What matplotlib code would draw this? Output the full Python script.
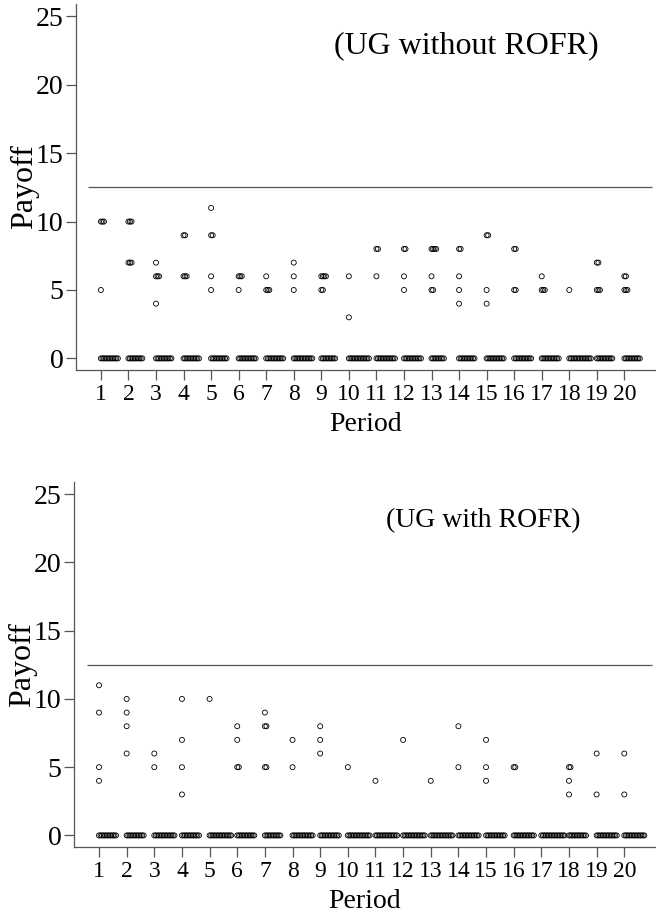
import numpy as np
import matplotlib.pyplot as plt

plt.rcParams['font.family'] = ['Liberation Serif', 'DejaVu Serif']

periods = list(range(1, 21))

# non-zero payoffs per period, zero payoffs counted separately
top_nonzero = [
    [10, 10, 10, 5], [10, 10, 10, 7, 7, 7], [7, 6, 6, 6, 4], [9, 9, 6, 6, 6],
    [11, 9, 9, 6, 5], [6, 6, 6, 5], [6, 5, 5, 5], [7, 6, 5],
    [6, 6, 6, 6, 5, 5], [6, 3], [8, 8, 6], [8, 8, 6, 5],
    [8, 8, 8, 8, 6, 5, 5], [8, 8, 6, 5, 4], [9, 9, 5, 4], [8, 8, 5, 5],
    [6, 5, 5, 5], [5], [7, 7, 5, 5, 5], [6, 6, 5, 5, 5],
]
top_zeros = [12, 10, 11, 11, 11, 12, 12, 13, 10, 14, 13, 12, 9, 11, 12, 12, 12, 15, 11, 11]

bot_nonzero = [
    [11, 9, 5, 4], [10, 9, 8, 6], [6, 5], [10, 7, 5, 3], [10], [8, 7, 5, 5],
    [9, 8, 8, 5, 5], [7, 5], [8, 7, 6], [5], [4], [7], [4], [8, 5],
    [7, 5, 4], [5, 5], [], [5, 5, 4, 3], [6, 3], [6, 3],
]
bot_zeros = [12, 12, 14, 12, 15, 12, 11, 14, 13, 15, 15, 15, 15, 14, 13, 14, 16, 12, 14, 14]

equal_split = 12.5
step = 0.056


def stack_points(nonzero, zeros):
    xs, ys = [], []
    for p, vals, nz in zip(periods, nonzero, zeros):
        allv = list(vals) + [0] * nz
        for v in sorted(set(allv)):
            k = allv.count(v)
            xs += [p + i * step for i in range(k)]
            ys += [v] * k
    return np.array(xs), np.array(ys)


def panel(ax, nonzero, zeros, title, tx, ty, tsize):
    x, y = stack_points(nonzero, zeros)
    ax.scatter(x, y, s=13, facecolors='none', edgecolors='black', linewidths=0.6)
    ax.hlines(equal_split, 0.55, 21.0, color='#555555', lw=0.9)
    ax.set_xlim(0.1, 21.1)
    ax.set_ylim(-0.85, 25.9)
    ax.set_xticks(periods)
    ax.set_yticks([0, 5, 10, 15, 20, 25])
    for s in ['top', 'right']:
        ax.spines[s].set_visible(False)
    for s in ['left', 'bottom']:
        ax.spines[s].set_color('#555555')
        ax.spines[s].set_linewidth(0.9)
    ax.tick_params(axis='both', length=7, width=0.9, color='#555555', pad=2)
    ax.tick_params(axis='x', labelsize=17, pad=3)
    ax.tick_params(axis='y', labelsize=20)
    ax.set_xlabel('Period', fontsize=20, labelpad=5)
    ax.set_ylabel('Payoff', fontsize=23, labelpad=-2)
    ax.text(tx, ty, title, transform=ax.transAxes, fontsize=tsize,
            ha='center', va='center')


fig = plt.figure(figsize=(6.56, 9.15), dpi=100)
ax1 = fig.add_axes([0.116, 0.5956, 0.882, 0.400])
ax2 = fig.add_axes([0.113, 0.0743, 0.885, 0.399])

panel(ax1, top_nonzero, top_zeros, '(UG without ROFR)', 0.675, 0.885, 23)
panel(ax2, bot_nonzero, bot_zeros, '(UG with ROFR)', 0.704, 0.895, 20)

fig.savefig('out.png', dpi=100)
